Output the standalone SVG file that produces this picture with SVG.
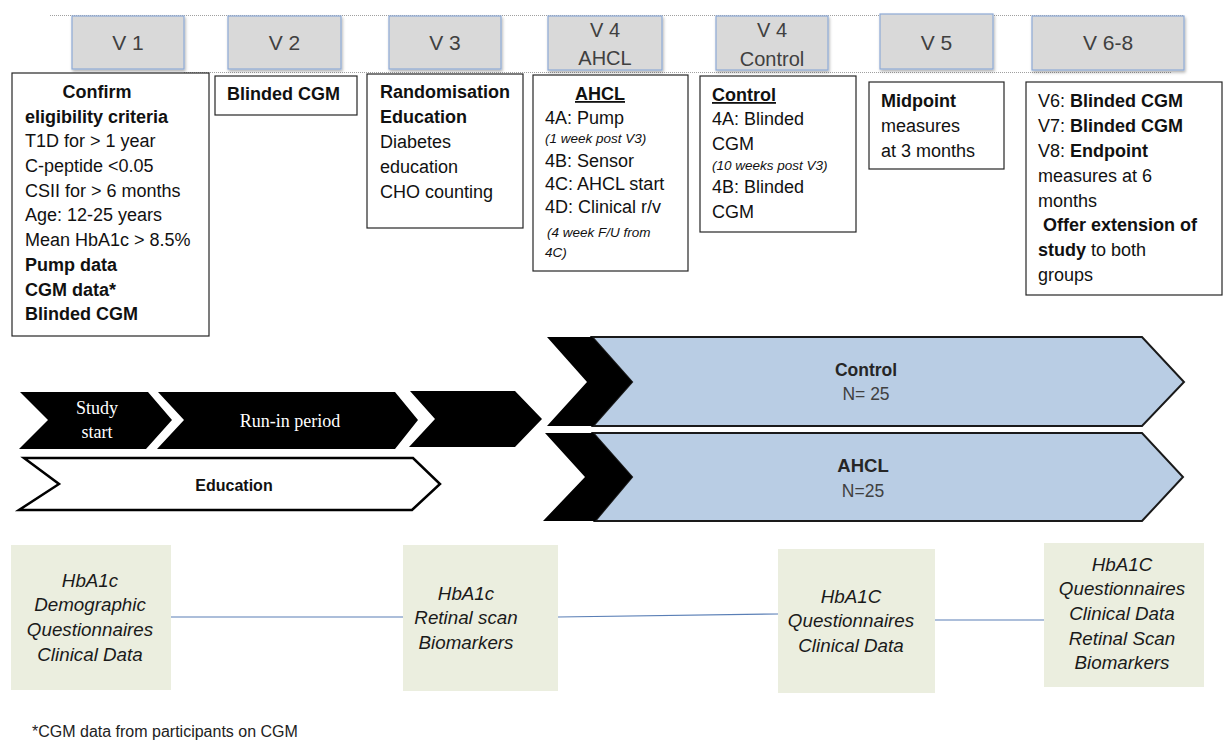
<svg xmlns="http://www.w3.org/2000/svg" width="1225" height="745" viewBox="0 0 1225 745">
<style>
text{font-family:"Liberation Sans",Arial,sans-serif;fill:#000;}
.hd{fill:#d9d9d9;stroke:#8eaad6;stroke-width:1.2;}
.ht{font-size:21px;fill:#404040;text-anchor:middle;}
.ht2{font-size:20px;fill:#404040;text-anchor:middle;}
.bx{fill:#fff;stroke:#262626;stroke-width:1.2;}
.t{font-size:18px;fill:#111;}
.b{font-weight:bold;}
.sm{font-size:13.5px;font-style:italic;fill:#111;}
.ul{text-decoration:underline;}
.dot{stroke:#a0a0a0;stroke-width:1;stroke-dasharray:1 1;fill:none;}
.blk{fill:#000;}
.blue{fill:#b9cde4;stroke:#1a1a1a;stroke-width:2;stroke-linejoin:miter;}
.sr{font-family:"Liberation Serif","Times New Roman",serif;font-size:18px;fill:#fff;text-anchor:middle;}
.gb{fill:#ebeedf;}
.gt{font-size:18.8px;font-style:italic;fill:#1a1a1a;text-anchor:middle;}
.con{stroke:#5a7fb6;stroke-width:1.2;fill:none;}
.ct{font-size:17.5px;text-anchor:middle;fill:#262626;}
</style>
<defs>
<filter id="sh" x="-10%" y="-10%" width="125%" height="135%">
<feDropShadow dx="1" dy="2" stdDeviation="1.5" flood-color="#000" flood-opacity="0.3"/>
</filter>
</defs>
<rect width="1225" height="745" fill="#fff"/>

<g id="timeline-lines">
<line class="dot" x1="50" y1="15.5" x2="1184" y2="15.5"/>
<line class="dot" x1="184" y1="72.5" x2="1172" y2="72.5"/>
</g>

<g id="h-v1"><rect class="hd" x="72" y="16" width="112" height="53" filter="url(#sh)"/><text class="ht" x="128" y="50">V 1</text></g>
<g id="h-v2"><rect class="hd" x="228" y="16" width="113" height="53" filter="url(#sh)"/><text class="ht" x="284.5" y="50">V 2</text></g>
<g id="h-v3"><rect class="hd" x="389" y="16" width="112" height="53" filter="url(#sh)"/><text class="ht" x="445" y="50">V 3</text></g>
<g id="h-v4a"><rect class="hd" x="548" y="16" width="114" height="54" filter="url(#sh)"/><text class="ht2" x="605" y="37">V 4</text><text class="ht2" x="605" y="65">AHCL</text></g>
<g id="h-v4c"><rect class="hd" x="716" y="16" width="112" height="54" filter="url(#sh)"/><text class="ht2" x="772" y="37">V 4</text><text class="ht2" x="772" y="66">Control</text></g>
<g id="h-v5"><rect class="hd" x="880" y="14" width="113" height="55" filter="url(#sh)"/><text class="ht" x="936.5" y="50">V 5</text></g>
<g id="h-v68"><rect class="hd" x="1032" y="16" width="152" height="54" filter="url(#sh)"/><text class="ht" x="1108" y="50">V 6-8</text></g>

<g id="box-v1">
<rect class="bx" x="12" y="73" width="197" height="263"/>
<text class="t b" x="97" y="98" text-anchor="middle">Confirm</text>
<text class="t b" x="25" y="123">eligibility criteria</text>
<text class="t" x="25" y="147">T1D for &gt; 1 year</text>
<text class="t" x="25" y="172">C-peptide &lt;0.05</text>
<text class="t" x="25" y="197">CSII for &gt; 6 months</text>
<text class="t" x="25" y="221">Age: 12-25 years</text>
<text class="t" x="25" y="246">Mean HbA1c &gt; 8.5%</text>
<text class="t b" x="25" y="271">Pump data</text>
<text class="t b" x="25" y="296">CGM data*</text>
<text class="t b" x="25" y="320">Blinded CGM</text>
</g>

<g id="box-v2">
<rect class="bx" x="215" y="76" width="142" height="39"/>
<text class="t b" x="227" y="100">Blinded CGM</text>
</g>

<g id="box-v3">
<rect class="bx" x="367" y="74" width="156" height="154"/>
<text class="t b" x="380" y="98">Randomisation</text>
<text class="t b" x="380" y="123">Education</text>
<text class="t" x="380" y="148">Diabetes</text>
<text class="t" x="380" y="173">education</text>
<text class="t" x="380" y="198">CHO counting</text>
</g>

<g id="box-v4a">
<rect class="bx" x="533" y="75" width="155" height="196"/>
<text class="t b ul" x="600" y="100" text-anchor="middle">AHCL</text>
<text class="t" x="545" y="124">4A: Pump</text>
<text class="sm" x="545" y="143">(1 week post V3)</text>
<text class="t" x="545" y="167">4B: Sensor</text>
<text class="t" x="545" y="190">4C: AHCL start</text>
<text class="t" x="545" y="213">4D: Clinical r/v</text>
<text class="sm" x="547" y="237">(4 week F/U from</text>
<text class="sm" x="545" y="257">4C)</text>
</g>

<g id="box-v4c">
<rect class="bx" x="700" y="76" width="156" height="156"/>
<text class="t b ul" x="712" y="101">Control</text>
<text class="t" x="712" y="125">4A: Blinded</text>
<text class="t" x="712" y="150">CGM</text>
<text class="sm" x="712" y="170">(10 weeks post V3)</text>
<text class="t" x="712" y="193">4B: Blinded</text>
<text class="t" x="712" y="218">CGM</text>
</g>

<g id="box-v5">
<rect class="bx" x="869" y="82" width="135" height="87"/>
<text class="t b" x="881" y="107">Midpoint</text>
<text class="t" x="881" y="132">measures</text>
<text class="t" x="881" y="157">at 3 months</text>
</g>

<g id="box-v68">
<rect class="bx" x="1026" y="82" width="196" height="213"/>
<text class="t" x="1038" y="107">V6: <tspan class="b">Blinded CGM</tspan></text>
<text class="t" x="1038" y="132">V7: <tspan class="b">Blinded CGM</tspan></text>
<text class="t" x="1038" y="157">V8: <tspan class="b">Endpoint</tspan></text>
<text class="t" x="1038" y="182">measures at 6</text>
<text class="t" x="1038" y="207">months</text>
<text class="t b" x="1043" y="231">Offer extension of</text>
<text class="t" x="1038" y="256"><tspan class="b">study</tspan> to both</text>
<text class="t" x="1038" y="281">groups</text>
</g>

<g id="chev-study">
<polygon class="blk" points="20,392 148,392 172,420 146,449 19,449 48,420"/>
<text class="sr" x="97" y="414">Study</text>
<text class="sr" x="97" y="438">start</text>
</g>
<g id="chev-runin">
<polygon class="blk" points="158,392 395,392 418,420 395,449 157,449 184,420"/>
<text class="sr" x="290" y="427">Run-in period</text>
</g>
<g id="chev-3">
<polygon class="blk" points="410,391 515,391 542,419 515,447 409,447 435,419"/>
</g>
<g id="chev-education">
<polygon points="24,458 413,458 440,484 412,510 19,510 59,484" fill="#fff" stroke="#000" stroke-width="2.5"/>
<text class="t b" x="234" y="491" text-anchor="middle" style="font-size:16px">Education</text>
</g>
<g id="arm-control">
<polygon class="blue" points="592,337 1142,337 1184,382 1142,426 593,426 632,382"/>
<polygon class="blk" points="547,337 592,337 632,382 593,426 547,426 587,382"/>
<text class="ct b" x="866" y="376">Control</text>
<text class="ct" x="866" y="400" style="fill:#404040">N= 25</text>
</g>
<g id="arm-ahcl">
<polygon class="blue" points="593,433 1142,433 1183,477 1142,521 595,521 632,477"/>
<polygon class="blk" points="545,433 593,433 632,477 595,521 543,521 585,477"/>
<text class="ct b" x="863" y="472" style="font-size:18.5px">AHCL</text>
<text class="ct" x="863" y="497" style="fill:#404040">N=25</text>
</g>

<g id="connectors">
<line class="con" x1="171" y1="617" x2="403" y2="617"/>
<line class="con" x1="558" y1="617" x2="778" y2="614"/>
<line class="con" x1="935" y1="620" x2="1044" y2="620"/>
</g>

<g id="m-baseline">
<rect class="gb" x="11" y="545" width="160" height="145"/>
<text class="gt" x="90" y="587">HbA1c</text>
<text class="gt" x="90" y="611">Demographic</text>
<text class="gt" x="90" y="636">Questionnaires</text>
<text class="gt" x="90" y="661">Clinical Data</text>
</g>
<g id="m-v3">
<rect class="gb" x="403" y="545" width="155" height="146"/>
<text class="gt" x="466" y="600">HbA1c</text>
<text class="gt" x="466" y="624">Retinal scan</text>
<text class="gt" x="466" y="649">Biomarkers</text>
</g>
<g id="m-mid">
<rect class="gb" x="778" y="549" width="157" height="144"/>
<text class="gt" x="851" y="603">HbA1C</text>
<text class="gt" x="851" y="627">Questionnaires</text>
<text class="gt" x="851" y="652">Clinical Data</text>
</g>
<g id="m-end">
<rect class="gb" x="1044" y="543" width="160" height="144"/>
<text class="gt" x="1122" y="571">HbA1C</text>
<text class="gt" x="1122" y="595">Questionnaires</text>
<text class="gt" x="1122" y="620">Clinical Data</text>
<text class="gt" x="1122" y="645">Retinal Scan</text>
<text class="gt" x="1122" y="669">Biomarkers</text>
</g>

<text x="32" y="737" style="font-size:16px;fill:#222">*CGM data from participants on CGM</text>
</svg>
